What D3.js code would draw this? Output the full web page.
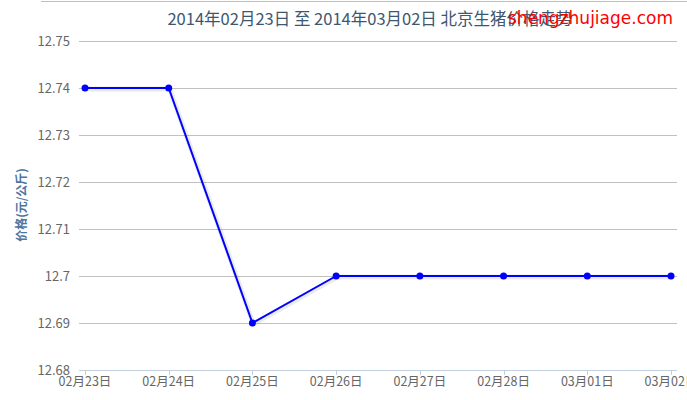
<!DOCTYPE html>
<html><head><meta charset="utf-8">
<script src="https://cdn.jsdelivr.net/npm/d3@7"></script>
<style>body{margin:0;background:#fff;}svg{display:block;}</style>
</head><body>
<svg id="c" width="687" height="400"></svg>
<script>
const categories = ["02月23日","02月24日","02月25日","02月26日","02月27日","02月28日","03月01日","03月02日"];
const values = [12.74, 12.74, 12.69, 12.70, 12.70, 12.70, 12.70, 12.70];
const yTicks = [12.68, 12.69, 12.70, 12.71, 12.72, 12.73, 12.74, 12.75];
const yTickLabels = ["12.68","12.69","12.7","12.71","12.72","12.73","12.74","12.75"];
const titleText = "2014年02月23日 至 2014年03月02日 北京生猪价格走势";
const yTitle = "价格(元/公斤)";
const watermark = "shengzhujiage.com";

const svg = d3.select("#c");
const font = "'Noto Sans CJK SC','DejaVu Sans',sans-serif";
const x = d3.scalePoint().domain(categories).range([85, 671]);
const y = d3.scaleLinear().domain([12.68, 12.75]).range([370, 41]);

// top border
svg.append("line").attr("x1",41).attr("x2",687).attr("y1",1.5).attr("y2",1.5).attr("stroke","#c0c0c0").attr("stroke-width",1);

// grid
svg.append("g").selectAll("line").data(yTicks).join("line")
  .attr("x1",79).attr("x2",677).attr("y1",d=>Math.round(y(d))+0.5).attr("y2",d=>Math.round(y(d))+0.5)
  .attr("stroke","#c0c0c0").attr("stroke-width",1);

// y labels
svg.append("g").selectAll("text").data(yTicks).join("text")
  .attr("x",70).attr("y",d=>y(d)+4.5).attr("text-anchor","end")
  .attr("font-family",font).attr("font-size",13).attr("fill","#666")
  .text((d,i)=>yTickLabels[i]);

// x axis
const xa = svg.append("g").attr("transform","translate(0,370)");
xa.append("line").attr("x1",79).attr("x2",677).attr("y1",0.5).attr("y2",0.5).attr("stroke","#c0d0e0");
xa.selectAll("line.t").data(categories).join("line").attr("class","t")
  .attr("x1",d=>Math.round(x(d))+0.5).attr("x2",d=>Math.round(x(d))+0.5).attr("y1",0).attr("y2",5).attr("stroke","#c0d0e0");
xa.selectAll("text").data(categories).join("text")
  .attr("x",d=>x(d)).attr("y",16).attr("text-anchor","middle")
  .attr("font-family",font).attr("font-size",12.5).attr("fill","#666").text(d=>d);

// y title
svg.append("text").attr("transform","translate(26,205) rotate(-90)").attr("text-anchor","middle")
  .attr("font-family",font).attr("font-size",12).attr("font-weight","bold").attr("fill","#4d759e").text(yTitle);

// title
svg.append("text").attr("x",370).attr("y",25).attr("text-anchor","middle")
  .attr("font-family",font).attr("font-size",16.5).attr("fill","#3e576f").text(titleText);

// line
const line = d3.line().x((d,i)=>x(categories[i])).y(d=>y(d));
svg.append("path").datum(values).attr("d",line).attr("fill","none")
  .attr("stroke","rgba(0,0,0,0.08)").attr("stroke-width",5).attr("transform","translate(1,1)");
svg.append("path").datum(values).attr("d",line).attr("fill","none")
  .attr("stroke","#0000ff").attr("stroke-width",2).attr("stroke-linejoin","round");
svg.append("g").selectAll("circle").data(values).join("circle")
  .attr("cx",(d,i)=>x(categories[i])).attr("cy",d=>y(d)).attr("r",3.5).attr("fill","#0000ff");

// watermark
svg.append("text").attr("x",508).attr("y",24).attr("font-family","'DejaVu Sans',sans-serif")
  .attr("font-size",17).attr("fill","#ff0000").text(watermark);
</script>
</body></html>
